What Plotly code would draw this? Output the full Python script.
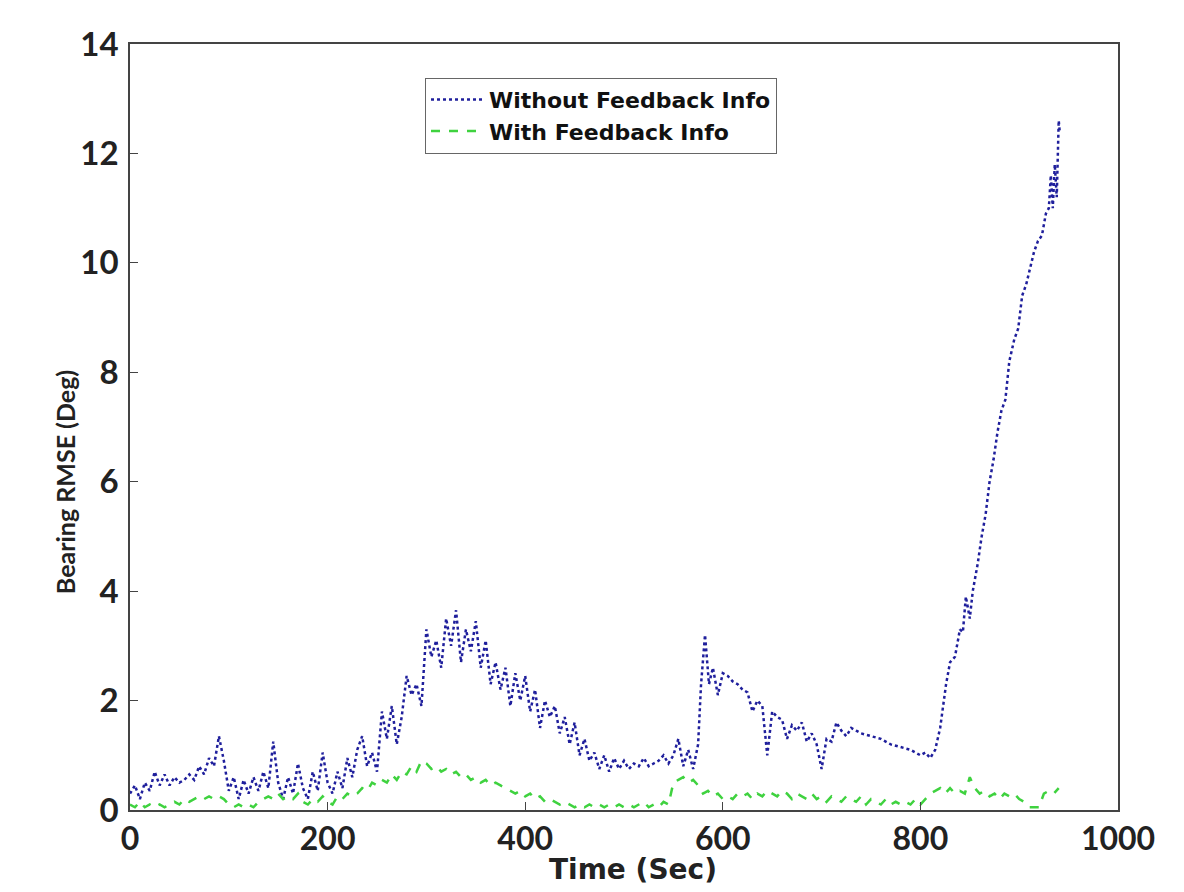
import plotly.graph_objects as go

# ---- data ----
blue_t = [0, 5, 10, 15, 20, 25, 30, 35, 40, 45, 50, 55, 60, 65, 70, 75, 80, 85, 90, 95,
          100, 105, 110, 115, 120, 125, 130, 135, 140, 145, 150, 155, 160, 165, 170, 175, 180, 185, 190, 195,
          200, 205, 210, 215, 220, 225, 230, 235, 240, 245, 250, 255, 260, 265, 270, 275, 280, 285, 290, 295,
          300, 305, 310, 315, 320, 325, 330, 335, 340, 345, 350, 355, 360, 365, 370, 375, 380, 385, 390, 395,
          400, 405, 410, 415, 420, 425, 430, 435, 440, 445, 450, 455, 460, 465, 470, 475, 480, 485, 490, 495,
          500, 505, 510, 515, 520, 525, 530, 535, 540, 545, 550, 555, 560, 565, 570, 575, 578, 582, 586, 590, 595,
          600, 605, 610, 615, 620, 625, 630, 635, 640, 645, 650, 655, 660, 665, 670, 675, 680, 685, 690, 695,
          700, 705, 710, 715, 720, 725, 730, 735, 740, 750, 760, 770, 780, 790,
          800, 805, 810, 815, 820, 823, 826, 830, 835, 840, 843, 846, 850, 853, 858, 862, 866, 870, 874, 878,
          882, 886, 890, 895, 899, 903, 907, 911, 915, 919, 923, 927, 930, 932, 934, 936, 938, 940, 941]
blue_v = [0.3, 0.45, 0.2, 0.5, 0.35, 0.7, 0.45, 0.65, 0.45, 0.6, 0.5, 0.55, 0.65, 0.55, 0.8, 0.65, 0.95, 0.8, 1.35, 0.9,
          0.35, 0.6, 0.2, 0.55, 0.3, 0.6, 0.35, 0.7, 0.4, 1.25, 0.5, 0.2, 0.6, 0.3, 0.85, 0.4, 0.2, 0.7, 0.35, 1.05,
          0.5, 0.3, 0.7, 0.4, 0.95, 0.6, 1.1, 1.35, 0.8, 1.05, 0.7, 1.8, 1.3, 1.9, 1.2, 1.7, 2.45, 2.1, 2.3, 1.9,
          3.3, 2.8, 3.1, 2.6, 3.5, 3.0, 3.65, 2.7, 3.3, 2.9, 3.45, 2.6, 3.1, 2.3, 2.7, 2.2, 2.6, 1.9, 2.5, 2.0,
          2.45, 1.8, 2.2, 1.5, 2.0, 1.7, 1.9, 1.4, 1.7, 1.2, 1.6, 1.0, 1.3, 0.9, 1.05, 0.75, 1.0, 0.7, 0.95, 0.75,
          0.9, 0.75, 0.85, 0.8, 0.95, 0.8, 0.85, 0.9, 1.0, 0.85, 1.0, 1.3, 0.8, 1.1, 0.75, 1.2, 2.3, 3.2, 2.3, 2.6, 2.1,
          2.5, 2.45, 2.35, 2.3, 2.2, 2.15, 1.8, 2.0, 1.9, 1.0, 1.8, 1.7, 1.65, 1.3, 1.55, 1.45, 1.6, 1.25, 1.4, 1.2,
          0.75, 1.3, 1.25, 1.6, 1.45, 1.35, 1.5, 1.45, 1.4, 1.35, 1.3, 1.2, 1.15, 1.1,
          1.0, 1.05, 0.95, 1.1, 1.5, 1.9, 2.3, 2.7, 2.8, 3.3, 3.25, 3.9, 3.5, 4.0, 4.5, 5.0, 5.4, 6.0, 6.4, 6.9,
          7.3, 7.5, 8.2, 8.6, 8.8, 9.4, 9.6, 9.9, 10.2, 10.4, 10.5, 10.9, 11.0, 11.6, 11.0, 11.8, 11.2, 12.6, 12.4]

green_t = list(range(0, 945, 5))
green_v = [0.1, 0.05, 0.15, 0.05, 0.1, 0.05, 0.1, 0.05, 0.1, 0.15, 0.1, 0.2, 0.15, 0.2, 0.25, 0.2, 0.25, 0.2, 0.25, 0.2,
           0.1, 0.05, 0.1, 0.05, 0.1, 0.05, 0.15, 0.2, 0.25, 0.2, 0.3, 0.2, 0.25, 0.2, 0.3, 0.15, 0.1, 0.2, 0.15, 0.25,
           0.15, 0.1, 0.25, 0.2, 0.3, 0.25, 0.3, 0.4, 0.35, 0.5, 0.45, 0.55, 0.5, 0.65, 0.55, 0.7, 0.65, 0.8, 0.7, 0.9,
           0.85, 0.75, 0.8, 0.7, 0.75, 0.65, 0.7, 0.6, 0.65, 0.55, 0.6, 0.5, 0.55, 0.45, 0.5, 0.45, 0.4, 0.35, 0.3, 0.35,
           0.25, 0.3, 0.2, 0.25, 0.15, 0.2, 0.15, 0.1, 0.15, 0.1, 0.05, 0.1, 0.05, 0.1, 0.05, 0.1, 0.05, 0.1, 0.05, 0.1,
           0.05, 0.1, 0.05, 0.1, 0.15, 0.05, 0.1, 0.05, 0.15, 0.1, 0.5, 0.55, 0.6, 0.5, 0.55, 0.45, 0.3, 0.35, 0.25, 0.3,
           0.2, 0.25, 0.2, 0.3, 0.25, 0.3, 0.2, 0.3, 0.25, 0.35, 0.3, 0.25, 0.35, 0.3, 0.2, 0.3, 0.25, 0.2, 0.3, 0.2,
           0.25, 0.15, 0.25, 0.2, 0.15, 0.25, 0.2, 0.15, 0.25, 0.1, 0.2, 0.15, 0.1, 0.2, 0.1, 0.15, 0.1, 0.15, 0.1, 0.2,
           0.1, 0.2, 0.3, 0.35, 0.4, 0.3, 0.4, 0.3, 0.35, 0.3, 0.6, 0.4, 0.3, 0.35, 0.25, 0.3, 0.2, 0.3, 0.25, 0.3,
           0.2, 0.15, 0.05, 0.05, 0.05, 0.3, 0.35, 0.3, 0.4]

x_ticks = [0, 200, 400, 600, 800, 1000]
y_ticks = [0, 2, 4, 6, 8, 10, 12, 14]
names = ["Without Feedback Info", "With Feedback Info"]
x_title = "Time (Sec)"
y_title = "Bearing RMSE (Deg)"

FONT = "Lato"
WIDE = "DejaVu Sans"

fig = go.Figure()
fig.add_trace(go.Scatter(x=blue_t, y=blue_v, mode="lines", name=names[0],
                         line=dict(color="#1f1f9c", width=2.5, dash="dot")))
fig.add_trace(go.Scatter(x=green_t, y=green_v, mode="lines", name=names[1],
                         line=dict(color="#3fd23f", width=2.5, dash="dash")))

axis_common = dict(showgrid=False, zeroline=False, showline=True, linecolor="#444", linewidth=1.5,
                   mirror=True, ticks="inside", ticklen=8, tickcolor="#444", tickwidth=1)

fig.update_xaxes(range=[0, 1000], tickvals=x_ticks, **axis_common,
                 tickfont=dict(family=FONT, size=32, color="#222", weight="bold"))
fig.update_yaxes(range=[0, 14], tickvals=y_ticks, **axis_common,
                 tickfont=dict(family=FONT, size=33, color="#222", weight="bold"),
                 ticklabelstandoff=3)

fig.add_annotation(text=x_title, xref="paper", yref="paper", x=0.509, y=-0.0775,
                   xanchor="center", yanchor="middle", showarrow=False,
                   font=dict(family=WIDE, size=28, color="#222", weight="bold"))
fig.add_annotation(text=y_title, xref="paper", yref="paper", x=-0.0658, y=0.428,
                   xanchor="center", yanchor="middle", showarrow=False, textangle=-90,
                   font=dict(family=FONT, size=25, color="#222", weight="bold"))

fig.update_layout(
    width=1176, height=884,
    margin=dict(l=122, r=66, t=36, b=82, autoexpand=False),
    plot_bgcolor="white", paper_bgcolor="white",
    legend=dict(x=0.2986, y=0.956, xanchor="left", yanchor="top",
                bgcolor="white", bordercolor="#666", borderwidth=1,
                font=dict(family=WIDE, size=22, color="#111", weight="bold"),
                tracegroupgap=0, itemwidth=53),
)

fig.write_html("out.html")
